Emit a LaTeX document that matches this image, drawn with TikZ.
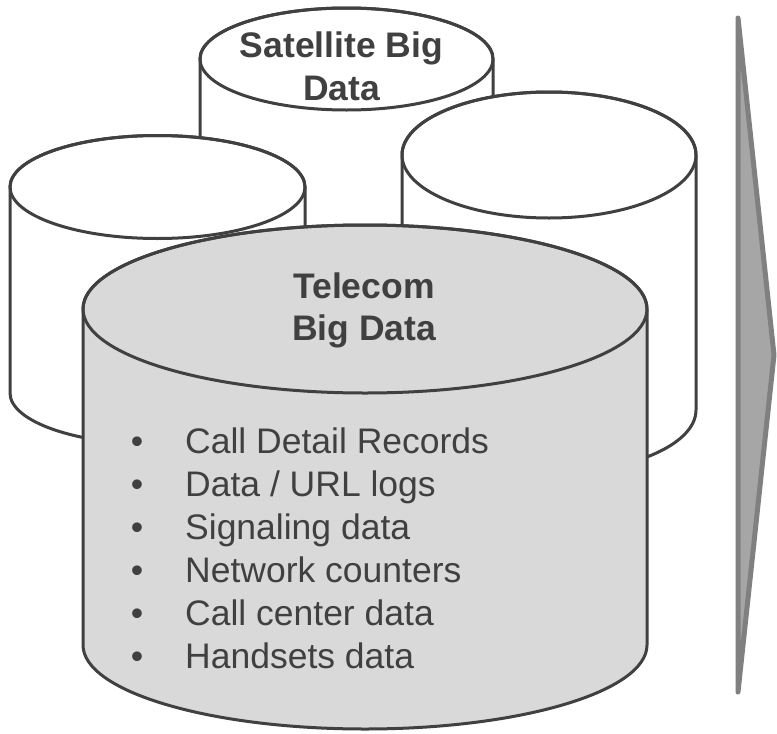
\documentclass[tikz,border=0pt]{standalone}
\usepackage{fontspec}
\setmainfont{Liberation Sans}
\definecolor{ink}{HTML}{404040}
\definecolor{telefill}{HTML}{D9D9D9}
\definecolor{arrowfill}{HTML}{A6A6A6}
\definecolor{arrowline}{HTML}{808080}
\newcommand{\mycyl}[6]{%
  \path[cylline, fill=#6] (#1-#4,-#2) -- (#1-#4,-#3)
    arc[start angle=180, end angle=360, x radius=#4pt, y radius=#5pt]
    -- (#1+#4,-#2) arc[start angle=0, end angle=180, x radius=#4pt, y radius=#5pt] -- cycle;
  \draw[cylline] (#1,-#2) ellipse[x radius=#4pt, y radius=#5pt];
}
\begin{document}
\begin{tikzpicture}[x=1pt,y=1pt,
  cylline/.style={draw=ink, line width=3pt},
  label/.style={text=ink, inner sep=0pt, font=\fontsize{35.5}{42.6}\selectfont},
  boldlabel/.style={label, font=\fontsize{35.5}{42.6}\selectfont\bfseries}]
\useasboundingbox (0,0) rectangle (777,-734);
\fill[white] (0,0) rectangle (777,-734);
% back cylinders
\mycyl{346.5}{59}{300}{146.5}{51}{white}
\mycyl{157.5}{187}{393}{147.5}{51.5}{white}
\mycyl{549}{155}{410}{147}{63}{white}
% front cylinder
\mycyl{365}{309}{645}{282}{84}{telefill}
% texts
\node[boldlabel, anchor=base] (sat1) at (341.5,-57) {Satellite Big};
\node[boldlabel, anchor=base] (sat2) at (341.5,-100) {Data};
\node[boldlabel, anchor=base] (tel1) at (364,-298) {Telecom};
\node[boldlabel, anchor=base] (tel2) at (364,-340) {Big Data};
\foreach \t [count=\i] in {Call Detail Records, Data / URL logs, Signaling data, Network counters, Call center data, Handsets data}{
  \node[label, anchor=base] (b\i) at (137,{-453-43*(\i-1)}) {•};
  \node[label, anchor=base west] (t\i) at (185,{-453-43*(\i-1)}) {\t};
}
% arrow
\draw[line width=5pt, draw=arrowline, fill=arrowfill, line join=round]
  (738,-18) -- (774,-355) -- (738,-692) -- cycle;
\end{tikzpicture}
\end{document}
